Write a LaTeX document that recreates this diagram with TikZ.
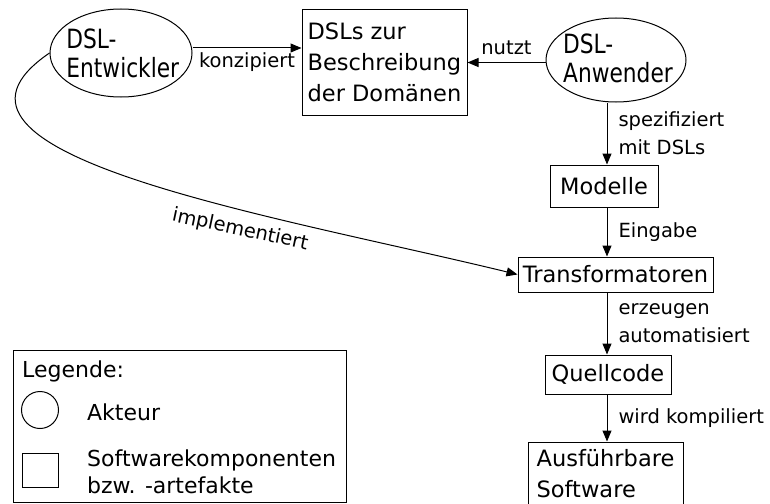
\documentclass[tikz,border=0pt]{standalone}
\usepackage{fontspec}
\setmainfont{DejaVu Sans}
\newfontfamily\narrowfont{DejaVu Sans}[FakeStretch=0.82]
\usetikzlibrary{arrows.meta,shapes.geometric}
\begin{document}
\begin{tikzpicture}[x=1pt,y=-1pt,
  nodefont/.style={font=\fontsize{22.5}{31}\selectfont},
  lblfont/.style={font=\fontsize{19.5}{28}\selectfont},
  box/.style={draw, line width=1pt, inner sep=0pt, align=center, nodefont},
  actor/.style={draw, ellipse, line width=1pt, inner sep=0pt},
  actortext/.style={inner sep=0pt, align=left, font=\narrowfont\fontsize{26.5}{29.5}\selectfont},
  lbl/.style={inner sep=0pt, align=left, lblfont},
  arr/.style={line width=1pt, -{Triangle[length=11pt,width=9pt]}},
]
\useasboundingbox (0,0) rectangle (770,503);
\clip (0,0) rectangle (770,503);

% actors
\node[actor, minimum width=142pt, minimum height=88pt] (ent) at (121,53) {};
\node[actortext] (enttext) at (122.8,53.3) {DSL-\\Entwickler};
\node[actor, minimum width=140pt, minimum height=84pt] (anw) at (616,60) {};
\node[actortext] (anwtext) at (618,58.3) {DSL-\\Anwender};

% artefacts
\node[box, align=left, minimum width=165pt, minimum height=105pt] (dsl) at (384.5,62.5) {DSLs zur\\Beschreibung\\der Domänen};
\node[box, minimum width=108pt, minimum height=42pt] (mod) at (604,186) {Modelle};
\node[box, minimum width=195pt, minimum height=35pt] (trans) at (615.5,274.5) {Transformatoren};
\node[box, minimum width=126pt, minimum height=39pt] (quell) at (608,374.5) {Quellcode};
\node[box, align=left, minimum width=155pt, minimum height=63pt] (exe) at (605.5,473.5) {Ausführbare\\Software};

% vertical flow column
\coordinate (col) at (607,0);

% connectors
\draw[arr] ([yshift=5pt]ent.east) -- ([yshift=5pt]ent.east -| dsl.west)
  node[lbl, midway, below=4pt] {konzipiert};
\draw[arr] (anw.west |- dsl.east) -- (dsl.east)
  node[lbl, midway, above=7pt] {nutzt};
\draw[arr] (anw.south -| col) -- (mod.north -| col)
  node[lbl, midway, right=11pt] {spezifiziert\\mit DSLs};
\draw[arr] (mod.south -| col) -- (trans.north -| col)
  node[lbl, midway, right=11pt] {Eingabe};
\draw[arr] (trans.south -| col) -- (quell.north -| col)
  node[lbl, midway, right=11pt] {erzeugen\\automatisiert};
\draw[arr] (quell.south -| col) -- (exe.north -| col)
  node[lbl, midway, right=11pt] {wird kompiliert};
\draw[arr] (ent.west) .. controls (-100,155) and (273,215) .. (trans.west);
\node[lbl, rotate=-12] (impl) at (240,230) {implementiert};

% legend
\node[draw, line width=1pt, minimum width=333pt, minimum height=152pt, inner sep=0pt] (legend) at (179.5,426) {};
\node[anchor=west, inner sep=0pt, font=\fontsize{22}{27}\selectfont] (legtitle) at (22,371) {Legende:};
\node[draw, circle, minimum size=37pt, inner sep=0pt, line width=1pt] (legact) at (40,410) {};
\node[anchor=west, inner sep=0pt, font=\fontsize{22}{27}\selectfont] (legacttext) at (87,412) {Akteur};
\node[draw, minimum width=36pt, minimum height=34pt, inner sep=0pt, line width=1pt] (legbox) at (40,470) {};
\node[anchor=west, inner sep=0pt, align=left, font=\fontsize{22}{27}\selectfont] (legboxtext) at (87,472) {Softwarekomponenten\\bzw. -artefakte};
\end{tikzpicture}
\end{document}
